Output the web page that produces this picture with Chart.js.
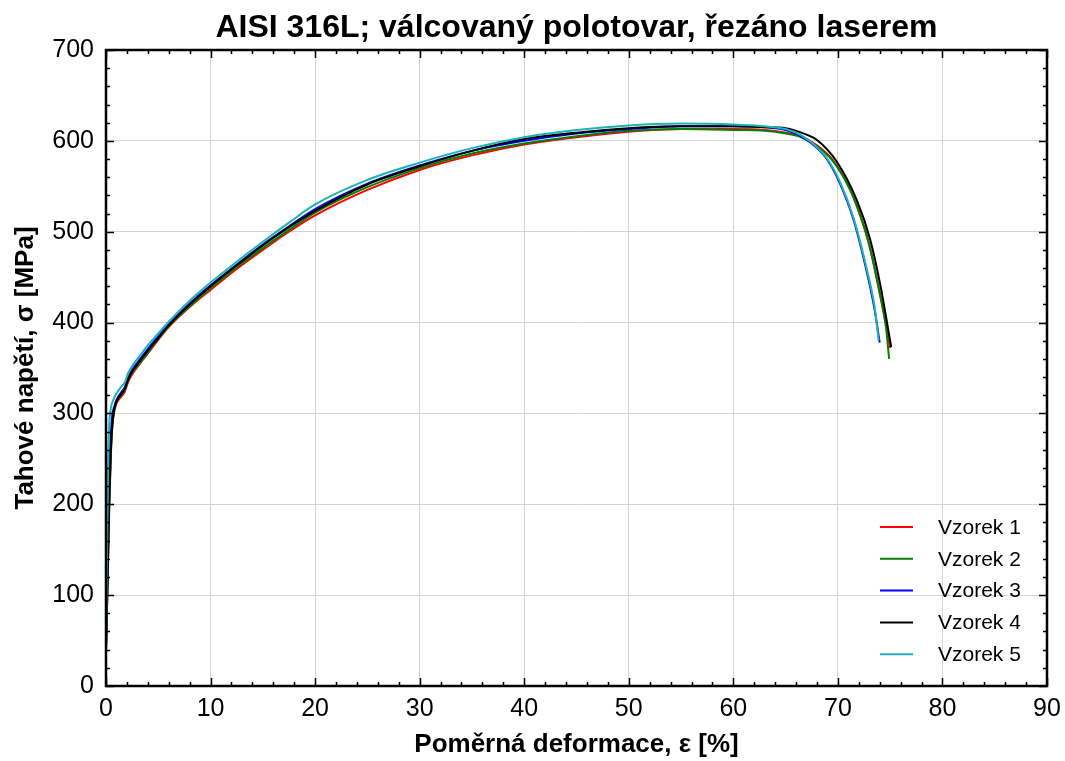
<!DOCTYPE html>
<html>
<head>
<meta charset="utf-8">
<script src="https://cdn.jsdelivr.net/npm/chart.js@4/dist/chart.umd.min.js"></script>
<style>
  body { margin: 0; background: #fff; }
</style>
</head>
<body>
<canvas id="chart" width="1065" height="761"></canvas>
<script>
const titleText = 'AISI 316L; válcovaný polotovar, řezáno laserem';
const labels = ['Vzorek 1', 'Vzorek 2', 'Vzorek 3', 'Vzorek 4', 'Vzorek 5'];
const colors = ['#ff0000', '#008000', '#0000ff', '#000000', '#1fb3b3'];

const xTicks = [0, 10, 20, 30, 40, 50, 60, 70, 80, 90];
const yTicks = [0, 100, 200, 300, 400, 500, 600, 700];

// strain [%] / stress [MPa]
const strain1 = [0, 0.15, 0.3, 0.45, 0.6, 0.8, 1.0, 1.5, 1.8, 2.1, 2.5, 3, 4, 5, 6, 8, 10, 12.5, 15, 17.5, 20, 25, 30, 35, 40, 45, 50, 55, 60, 63, 65, 66.5, 68, 69.5, 71, 72, 73, 74, 74.6, 75.0];
const stress1 = [40, 110, 190, 250, 285, 303, 311, 319, 324, 334, 343, 351, 366, 381, 395, 417, 436, 459, 480, 500, 518, 546, 568, 584, 596, 604, 610, 613, 613, 612, 609, 605, 595, 579, 551, 523, 486, 433, 398, 372];

const strain2 = [0, 0.15, 0.3, 0.45, 0.6, 0.8, 1.0, 1.5, 1.8, 2.1, 2.5, 3, 4, 5, 6, 8, 10, 12.5, 15, 17.5, 20, 25, 30, 35, 40, 45, 50, 55, 60, 63, 65, 66.5, 68, 69.5, 71, 72, 73, 74, 74.6, 74.9];
const stress2 = [40, 115, 195, 252, 286, 304, 312, 321, 326, 336, 345, 352, 367, 382, 396, 418, 438, 461, 482, 502, 521, 549, 570, 586, 597, 605, 611, 613, 612, 611, 608, 604, 594, 578, 550, 522, 485, 432, 395, 360];

const strain3 = [0, 0.15, 0.3, 0.45, 0.6, 0.8, 1.0, 1.5, 1.8, 2.1, 2.5, 3, 4, 5, 6, 8, 10, 12.5, 15, 17.5, 20, 25, 30, 35, 40, 45, 50, 55, 60, 63, 65, 66.5, 68, 69, 70.2, 71.5, 72.8, 73.5, 74.0];
const stress3 = [45, 140, 225, 275, 298, 308, 315, 324, 329, 339, 348, 356, 371, 385, 398, 421, 441, 464, 486, 506, 525, 553, 573, 589, 600, 608, 613, 616, 616, 615, 612, 605, 592, 579, 553, 513, 454, 415, 378];

const strain4 = [0, 0.15, 0.3, 0.45, 0.6, 0.8, 1.0, 1.5, 1.8, 2.1, 2.5, 3, 4, 5, 6, 8, 10, 12.5, 15, 17.5, 20, 25, 30, 35, 40, 45, 50, 55, 60, 63, 65, 66.5, 68, 69.9, 71.8, 73.1, 74.1, 74.7, 75.1];
const stress4 = [40, 115, 200, 255, 288, 305, 313, 322, 327, 337, 346, 354, 369, 383, 397, 420, 440, 463, 485, 505, 523, 552, 572, 589, 602, 609, 614, 616, 616, 615, 614, 609, 601, 577, 535, 491, 439, 400, 373];

const strain5 = [0, 0.1, 0.2, 0.3, 0.45, 0.7, 1.0, 1.5, 1.8, 2.1, 2.5, 3, 4, 5, 6, 8, 10, 12.5, 15, 17.5, 20, 25, 30, 35, 40, 45, 50, 55, 60, 63, 65, 66.5, 68, 69, 70.2, 71.5, 72.8, 73.5, 73.9];
const stress5 = [50, 150, 240, 285, 305, 315, 322, 330, 334, 344, 352, 360, 375, 388, 401, 424, 444, 467, 489, 510, 530, 557, 576, 592, 604, 612, 617, 619, 618, 616, 613, 606, 593, 580, 555, 515, 457, 418, 380];

const strains = [strain1, strain2, strain3, strain4, strain5];
const stresses = [stress1, stress2, stress3, stress4, stress5];

const FONT = '"Liberation Sans", Arial, sans-serif';

// inward major/minor ticks on all four sides plus the black frame
const framePlugin = {
    id: 'frame',
    afterDatasetsDraw(chart) {
        const {ctx, chartArea: a, scales: {x, y}} = chart;
        ctx.save();
        ctx.strokeStyle = '#000';
        ctx.lineWidth = 1.5;
        ctx.beginPath();
        for (let v = 0; v <= 90; v += 2) {
            const px = Math.round(x.getPixelForValue(v)) + 0.5;
            const len = v % 10 === 0 ? 8 : 4;
            ctx.moveTo(px, a.bottom); ctx.lineTo(px, a.bottom - len);
            ctx.moveTo(px, a.top); ctx.lineTo(px, a.top + len);
        }
        for (let v = 0; v <= 700; v += 20) {
            const py = Math.round(y.getPixelForValue(v)) + 0.5;
            const len = v % 100 === 0 ? 8 : 4;
            ctx.moveTo(a.left, py); ctx.lineTo(a.left + len, py);
            ctx.moveTo(a.right, py); ctx.lineTo(a.right - len, py);
        }
        ctx.stroke();
        ctx.lineWidth = 2.5;
        ctx.strokeRect(a.left, a.top, a.right - a.left, a.bottom - a.top);
        ctx.restore();
    }
};

// title centred over the plot area, legend in the lower right corner
const textPlugin = {
    id: 'texts',
    afterDraw(chart) {
        const {ctx, chartArea: a} = chart;
        ctx.save();
        ctx.fillStyle = '#000';
        ctx.textAlign = 'center';
        ctx.textBaseline = 'middle';
        ctx.font = 'bold 32px ' + FONT;
        ctx.fillText(titleText, (a.left + a.right) / 2, 28);

        ctx.font = '21px ' + FONT;
        ctx.textAlign = 'left';
        chart.data.datasets.forEach((ds, i) => {
            const yy = a.bottom - 159 + i * 31.8;
            ctx.strokeStyle = ds.borderColor;
            ctx.lineWidth = 2;
            ctx.beginPath();
            ctx.moveTo(a.right - 167, yy);
            ctx.lineTo(a.right - 134, yy);
            ctx.stroke();
            ctx.fillText(ds.label, a.right - 109, yy + 1);
        });
        ctx.restore();
    }
};

const datasets = labels.map((label, i) => ({
    label: label,
    data: strains[i].map((s, k) => ({x: s, y: stresses[i][k]})),
    showLine: true,
    borderColor: colors[i],
    backgroundColor: colors[i],
    borderWidth: 2,
    pointRadius: 0,
    cubicInterpolationMode: 'monotone',
    order: labels.length - i
}));

new Chart(document.getElementById('chart'), {
    type: 'scatter',
    data: {datasets: datasets},
    options: {
        responsive: false,
        animation: false,
        layout: {padding: {top: 50, right: 18, bottom: 0, left: 0}},
        plugins: {
            legend: {display: false},
            tooltip: {enabled: false},
            title: {display: false}
        },
        scales: {
            x: {
                type: 'linear',
                min: 0,
                max: 90,
                afterBuildTicks: s => { s.ticks = xTicks.map(v => ({value: v})); },
                afterFit: s => { s.height = 75; s.paddingRight = 0; s.paddingLeft = 0; },
                grid: {color: '#d4d4d4', lineWidth: 1, drawTicks: false},
                border: {display: false},
                ticks: {color: '#000', font: {family: FONT, size: 25}, padding: 8, maxRotation: 0},
                title: {
                    display: true,
                    text: 'Poměrná deformace, ε [%]',
                    color: '#000',
                    font: {family: FONT, size: 26, weight: 'bold'},
                    padding: {top: 0, bottom: 1}
                }
            },
            y: {
                min: 0,
                max: 700,
                afterBuildTicks: s => { s.ticks = yTicks.map(v => ({value: v})); },
                afterFit: s => { s.width = 106; },
                grid: {color: '#d4d4d4', lineWidth: 1, drawTicks: false},
                border: {display: false},
                ticks: {color: '#000', font: {family: FONT, size: 25}, padding: 12},
                title: {
                    display: true,
                    text: 'Tahové napětí, σ [MPa]',
                    color: '#000',
                    font: {family: FONT, size: 26, weight: 'bold'},
                    padding: {top: 10, bottom: 0}
                }
            }
        }
    },
    plugins: [framePlugin, textPlugin]
});
</script>
</body>
</html>
